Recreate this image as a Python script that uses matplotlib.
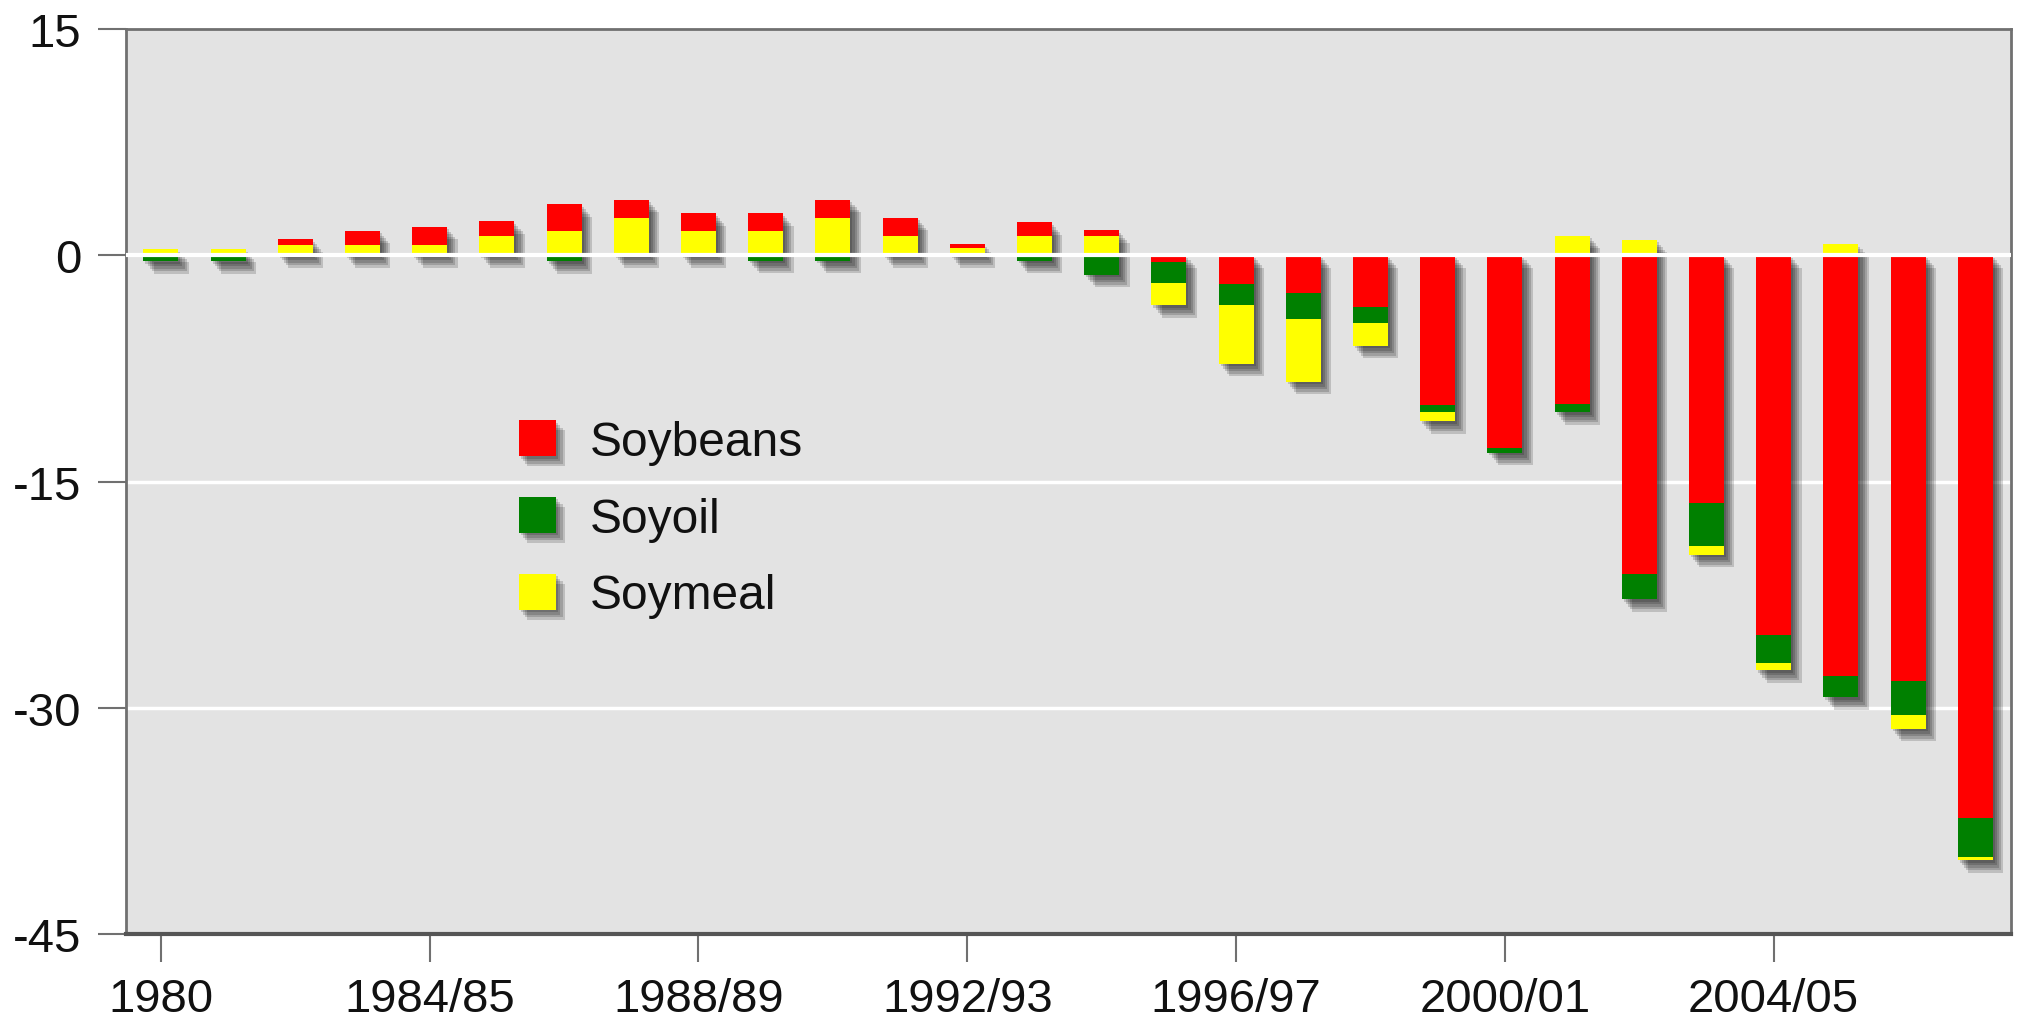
import matplotlib
matplotlib.use('Agg')
import matplotlib.pyplot as plt
import matplotlib.patheffects as pe
from matplotlib.patches import Patch
import numpy as np

plt.rcParams['font.family'] = ['Liberation Sans', 'DejaVu Sans']
plt.rcParams['axes.unicode_minus'] = False

# marketing years 1980 .. 2007/08
seasons = ['1980'] + ['%d/%02d' % (y, (y + 1) % 100) for y in range(1981, 2008)]

# net trade by product
soybeans = [0, 0, 0.35, 0.93, 1.2, 0.97, 1.8, 1.21, 1.22, 1.22, 1.21, 1.21, 0.25, 0.93, 0.38,
            -0.45, -1.9, -2.5, -3.4, -9.9, -12.8, -9.85, -21.1, -16.4, -25.2, -27.9, -28.2, -37.3]
soyoil = [-0.4, -0.4, 0, 0, 0, 0, -0.4, 0, 0, -0.35, -0.35, 0, 0, -0.35, -1.3,
          -1.4, -1.4, -1.7, -1.1, -0.5, -0.3, -0.55, -1.7, -2.9, -1.8, -1.4, -2.3, -2.6]
soymeal = [0.4, 0.4, 0.7, 0.7, 0.7, 1.27, 1.58, 2.46, 1.58, 1.58, 2.46, 1.27, 0.48, 1.27, 1.27,
           -1.46, -3.9, -4.2, -1.5, -0.6, 0, 1.3, 1.04, -0.55, -0.5, 0.74, -0.9, -0.2]

series = {'Soybeans': (np.array(soybeans), '#ff0000'),
          'Soyoil': (np.array(soyoil), '#008000'),
          'Soymeal': (np.array(soymeal), '#ffff00')}
pos_order = ['Soymeal', 'Soybeans', 'Soyoil']
neg_order = ['Soybeans', 'Soyoil', 'Soymeal']

x = np.arange(len(seasons))
width = 0.52

fig = plt.figure(figsize=(20.21, 10.20), dpi=100)
ax = fig.add_axes([0.0623, 0.0833, 0.9327, 0.8873])
ax.set_facecolor('#e3e3e3')

# soft drop shadows under each stack
allv = np.vstack([v for v, c in series.values()])
pos_total = np.where(allv > 0, allv, 0).sum(axis=0)
neg_total = np.where(allv < 0, allv, 0).sum(axis=0)
shadow = [pe.SimplePatchShadow(offset=(o, -o * 1.2), shadow_rgbFace='k', alpha=0.16)
          for o in (1.5, 3, 4.5, 6, 7.5)]
for tot in (pos_total, neg_total):
    ax.bar(x, tot, width, facecolor='none', edgecolor='none', zorder=2, path_effects=shadow)

# stacked bars
pos_base = np.zeros(len(x))
for name in pos_order:
    v, c = series[name]
    h = np.where(v > 0, v, 0)
    ax.bar(x, h, width, bottom=pos_base, color=c, zorder=3)
    pos_base += h
neg_base = np.zeros(len(x))
for name in neg_order:
    v, c = series[name]
    h = np.where(v < 0, v, 0)
    ax.bar(x, h, width, bottom=neg_base, color=c, zorder=3)
    neg_base += h

# grid lines
for yv in (-15, -30):
    ax.axhline(yv, color='white', lw=2.5, zorder=1)
ax.axhline(0, color='white', lw=3, zorder=5)

ax.set_xlim(-0.52, 27.53)
ax.set_ylim(-45, 15)
ax.set_yticks([15, 0, -15, -30, -45])
ax.set_xticks(x[::4])
ax.set_xticklabels(seasons[::4])
ax.tick_params(axis='both', labelsize=34, length=20, width=1.5, color='#707070', colors='#111111')
ax.tick_params(axis='x', pad=11)
ax.tick_params(axis='y', pad=12)
for s in ax.spines.values():
    s.set_color('#707070')
    s.set_linewidth(2)
ax.spines['bottom'].set_linewidth(3)
ax.spines['bottom'].set_color('#555555')

handles = [Patch(facecolor=series[n][1], edgecolor='none') for n in ['Soybeans', 'Soyoil', 'Soymeal']]
leg = ax.legend(handles, ['Soybeans', 'Soyoil', 'Soymeal'], loc='upper left',
                bbox_to_anchor=(0.2085, 0.568), frameon=False, fontsize=34.5,
                handlelength=0.78, handleheight=0.78, handletextpad=0.7,
                labelspacing=0.66, borderpad=0, borderaxespad=0)
for h in leg.legend_handles:
    h.set_path_effects([pe.SimplePatchShadow(offset=(o, -o * 1.2), shadow_rgbFace='k', alpha=0.16)
                        for o in (1.5, 3, 4.5, 6)] + [pe.Normal()])
for t in leg.get_texts():
    t.set_color('#111111')

fig.savefig('out.png', dpi=100)
